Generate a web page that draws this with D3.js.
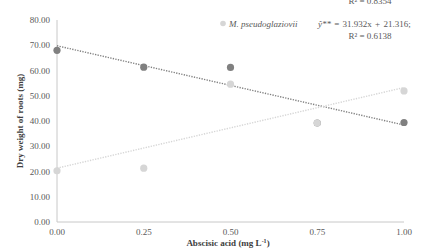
<!DOCTYPE html>
<html>
<head>
<meta charset="utf-8">
<script src="https://cdn.jsdelivr.net/npm/d3@7"></script>
<style>
  body { margin: 0; background: #fff; }
  text { font-family: "Liberation Serif", "Times New Roman", serif; }
</style>
</head>
<body>
<div id="chart"></div>
<script>
var width = 429;
var height = 251;

// data
var doses = [0, 0.25, 0.5, 0.75, 1.0];
var darkSeries = [68.0, 61.3, 61.2, 39.2, 39.4];
var lightSeries = [20.3, 21.3, 54.6, 39.2, 51.9];
var xTicks = [0, 0.25, 0.5, 0.75, 1.0];
var yTicks = [0, 10, 20, 30, 40, 50, 60, 70, 80];
// trend lines: [intercept, slope]
var darkTrend = [69.8, -31.4];
var lightTrend = [21.316, 31.932];

var margin = {left: 57, right: 25, top: 20, bottom: 29};

var svg = d3.select("#chart")
    .append("svg")
    .attr("width", width)
    .attr("height", height)

var x = d3.scaleLinear().domain([0, 1]).range([margin.left, width - margin.right]);
var y = d3.scaleLinear().domain([0, 80]).range([height - margin.bottom, margin.top]);

// axes
svg.append("line")
    .attr("x1", x(0)).attr("x2", x(0))
    .attr("y1", y(80)).attr("y2", y(0))
    .attr("stroke", "#c8c8c8").attr("stroke-width", 1)
svg.append("line")
    .attr("x1", x(0)).attr("x2", x(1))
    .attr("y1", y(0)).attr("y2", y(0))
    .attr("stroke", "#c8c8c8").attr("stroke-width", 1)

svg.selectAll(".ytick").data(yTicks).enter().append("text")
    .attr("x", x(0) - 7)
    .attr("y", d => y(d) + 3)
    .attr("text-anchor", "end")
    .attr("font-size", 9)
    .attr("fill", "#595959")
    .text(d => d3.format(".2f")(d))

svg.selectAll(".xtick").data(xTicks).enter().append("text")
    .attr("x", d => x(d))
    .attr("y", y(0) + 13)
    .attr("text-anchor", "middle")
    .attr("font-size", 9)
    .attr("fill", "#595959")
    .text(d => d3.format(".2f")(d))

// axis titles
var xt = svg.append("text")
    .attr("x", 228).attr("y", 246)
    .attr("text-anchor", "middle")
    .attr("font-size", 9).attr("font-weight", "bold")
    .attr("fill", "#404040")
xt.append("tspan").text("Abscisic acid (mg L")
xt.append("tspan").attr("dy", -3).attr("font-size", 6).text("-1")
xt.append("tspan").attr("dy", 3).text(")")

svg.append("text")
    .attr("transform", "translate(23," + ((y(0) + y(80)) / 2) + ") rotate(-90)")
    .attr("text-anchor", "middle")
    .attr("font-size", 9).attr("font-weight", "bold")
    .attr("fill", "#404040")
    .text("Dry weight of roots (mg)")

// trend lines
function trendLine(coef, color) {
    var pts = [0, 1].map(d => [x(d), y(coef[0] + coef[1] * d)]);
    svg.append("path")
        .attr("d", d3.line()(pts))
        .attr("fill", "none")
        .attr("stroke", color)
        .attr("stroke-width", 1.4)
        .attr("stroke-dasharray", "1.3 1.3")
}
trendLine(darkTrend, "#808080");
trendLine(lightTrend, "#d6d6d6");

// points
function dots(vals, color) {
    svg.append("g").selectAll("circle").data(vals).enter().append("circle")
        .attr("cx", (d, i) => x(doses[i]))
        .attr("cy", d => y(d))
        .attr("r", 3.6)
        .attr("fill", color)
}
dots(darkSeries, "#808080");
dots(lightSeries, "#d6d6d6");

// legend / equations
svg.append("circle").attr("cx", 223).attr("cy", 23.5).attr("r", 2.8).attr("fill", "#d6d6d6")
svg.append("text")
    .attr("x", 229).attr("y", 27)
    .attr("font-size", 9).attr("font-style", "italic").attr("fill", "#595959")
    .text("M. pseudoglaziovii")
var eq = svg.append("text")
    .attr("x", 318).attr("y", 27)
    .attr("font-size", 9).attr("fill", "#595959")
    .attr("word-spacing", 1)
eq.append("tspan").attr("font-style", "italic").text("ŷ**")
eq.append("tspan").text(" = 31.932x + 21.316;")
svg.append("text")
    .attr("x", 370).attr("y", 39)
    .attr("text-anchor", "middle")
    .attr("font-size", 9).attr("fill", "#595959")
    .text("R² = 0.6138")
svg.append("text")
    .attr("x", 370).attr("y", 4)
    .attr("text-anchor", "middle")
    .attr("font-size", 9).attr("fill", "#595959")
    .text("R² = 0.8354")
</script>
</body>
</html>
